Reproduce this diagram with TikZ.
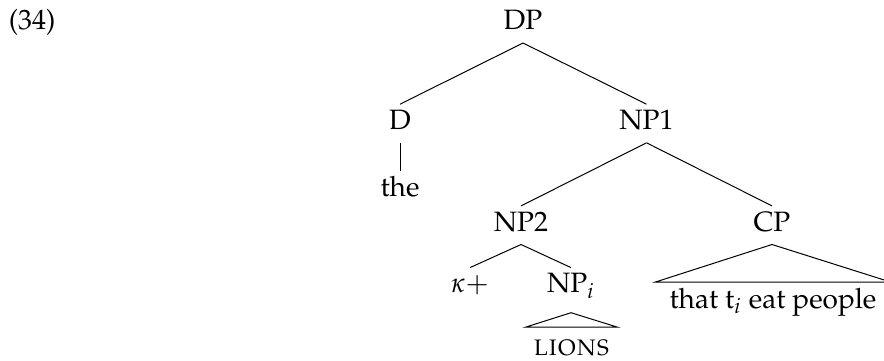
\documentclass[tikz,border=0pt]{standalone}
\usepackage[T1]{fontenc}
\usepackage{mathpazo}
\tikzset{
    cat/.style={anchor=base, inner xsep=1pt, inner ysep=2.5pt, text height=7.34pt, text depth=2.7pt},
    roof/.style={anchor=base, inner xsep=5.5pt, inner ysep=0pt, text depth=0pt},
}
\begin{document}
\fontsize{11.2}{13.4}\selectfont
\begin{tikzpicture}[x=0.4pt, y=-0.4pt]
                \useasboundingbox (0,0) rectangle (884,360);
                \node at (8.3,29.5) [anchor=base west, inner sep=0pt] (ex) {(34)};
                \node at (523,29.5) [cat] (DP) {DP};
                \node at (400,129.3) [cat] (D) {D};
                \node at (646.5,129.3) [cat] (NP1) {NP1};
                \node at (400,196) [cat] (the) {the};
                \node at (521,231) [cat] (NP2) {NP2};
                \node at (772,231) [cat] (CP) {CP};
                \node at (470,292.7) [cat] (kappa) {$\kappa+$};
                \node at (571,292.7) [cat, text depth=5.3pt] (NPi) {NP$_i$};
                \node at (571.5,355.7) [roof, inner xsep=3pt, text height=11.2pt] (lions) {\textsc{lions}};
                \node at (773,308.3) [roof, text height=10.3pt] (that) {that t$_i$ eat people};
                \draw (DP.south) -- (D.north);
                \draw (DP.south) -- (NP1.north);
                \draw (D.south) -- (the.north);
                \draw (NP1.south) -- (NP2.north);
                \draw (NP1.south) -- (CP.north);
                \draw (NP2.south) -- (kappa.north);
                \draw (NP2.south) -- (NPi.north);
                \draw (NPi.south) -- (lions.north west) -- (lions.north east) -- cycle;
                \draw (CP.south) -- (that.north west) -- (that.north east) -- cycle;
            \end{tikzpicture}
\end{document}
